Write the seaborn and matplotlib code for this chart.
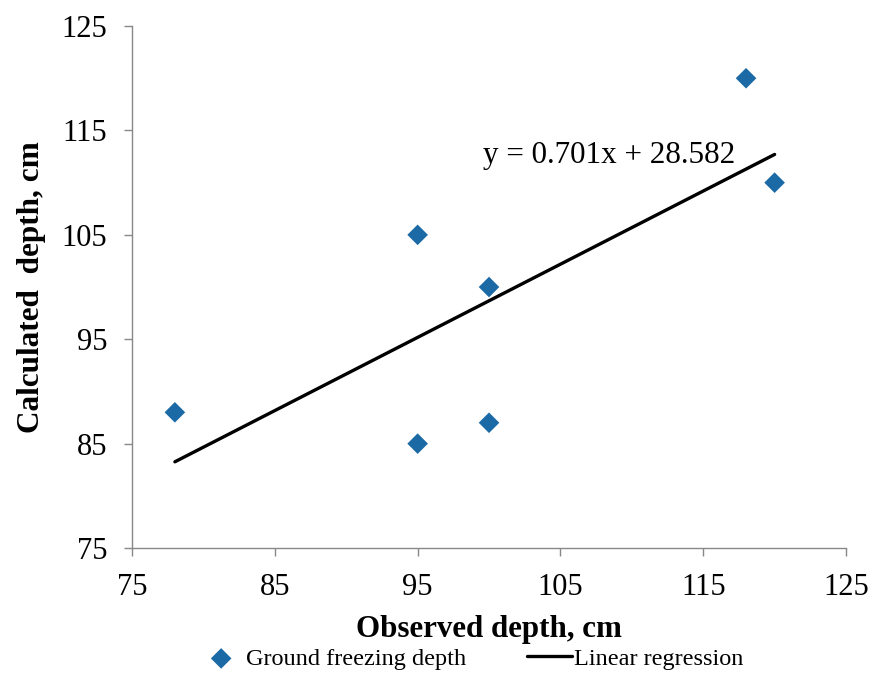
import numpy as np
import pandas as pd
import matplotlib.pyplot as plt
import seaborn as sns

sns.set_theme(style="white")
plt.rcParams["font.family"] = ["Liberation Serif", "DejaVu Serif"]
plt.rcParams["text.color"] = "black"
plt.rcParams["axes.labelcolor"] = "black"
plt.rcParams["xtick.color"] = "black"
plt.rcParams["ytick.color"] = "black"

# Observed vs calculated ground freezing depth (cm)
observed = [78, 95, 95, 100, 100, 118, 120]
calculated = [88, 105, 85, 100, 87, 120, 110]
slope = 0.701
intercept = 28.582
ticks = [75, 85, 95, 105, 115, 125]

df = pd.DataFrame({"Observed": observed, "Calculated": calculated})

fig = plt.figure(figsize=(8.71, 6.75), dpi=100)
ax = fig.add_axes([0.1516, 0.1881, 0.8197, 0.7733])

sns.scatterplot(data=df, x="Observed", y="Calculated", marker="D", s=110,
                color="#1B6AA5", edgecolor="none", ax=ax,
                label="Ground freezing depth", zorder=3)

xl = np.array([min(observed), max(observed)])
sns.lineplot(x=xl, y=slope * xl + intercept, color="black", linewidth=2.4,
             ax=ax, label="Linear regression", zorder=2)

ax.text(99.6, 112.6, f"y = {slope}x + {intercept}", fontsize=22.4,
        ha="left", va="center")

ax.set_xlim(75, 125)
ax.set_ylim(75, 125)
ax.set_xticks(ticks)
ax.set_yticks(ticks)
ax.tick_params(labelsize=22, length=6, width=1, direction="out",
               bottom=True, left=True)
ax.tick_params(axis="both", color="#888888")
ax.tick_params(axis="y", pad=12)
ax.tick_params(axis="x", pad=12)
for side in ["top", "right"]:
    ax.spines[side].set_visible(False)
for side in ["left", "bottom"]:
    ax.spines[side].set_color("#888888")
    ax.spines[side].set_linewidth(1)

ax.set_xlabel("Observed depth, cm", fontsize=22.3, fontweight="bold", labelpad=9)
ax.set_ylabel("Calculated  depth, cm", fontsize=22.5, fontweight="bold", labelpad=11)

ax.legend_.remove()
handles, labels = ax.get_legend_handles_labels()
fig.legend(handles, labels, loc="center", bbox_to_anchor=(0.541, 0.024),
           ncol=2, frameon=False, fontsize=17.5, handlelength=1.85,
           handletextpad=0.1, columnspacing=2.5)

fig.savefig("out.png", dpi=100)
